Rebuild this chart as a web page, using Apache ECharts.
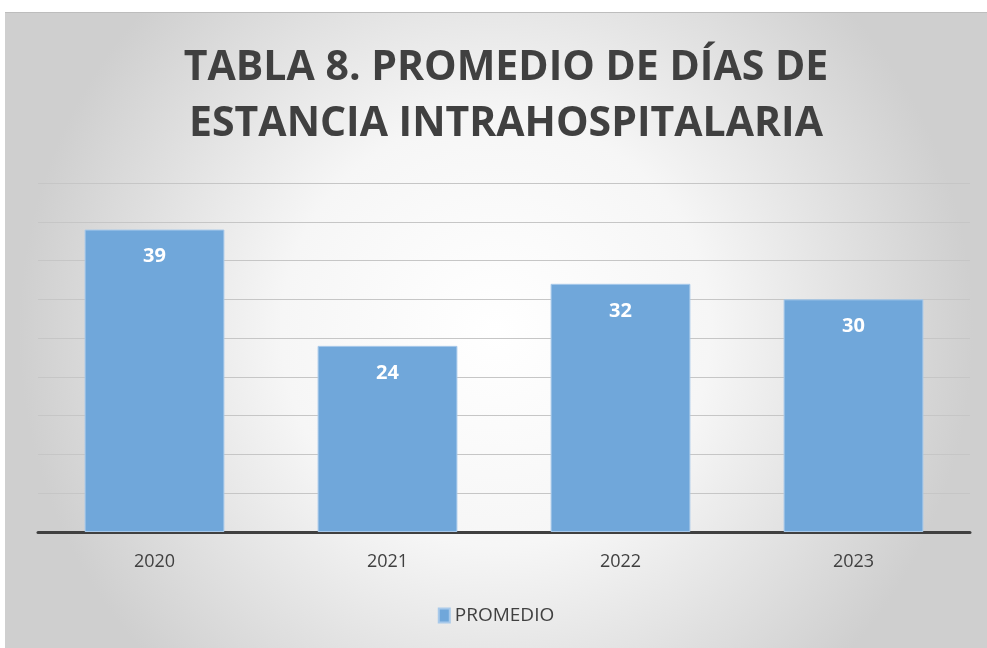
<!DOCTYPE html>
<html>
<head>
<meta charset="utf-8">
<script src="https://cdn.jsdelivr.net/npm/echarts@6/dist/echarts.min.js"></script>
<style>
  html, body { margin: 0; padding: 0; background: #fff; }
  #chart { position: absolute; left: 5px; top: 12px; width: 982px; height: 636px; border-top: 1px solid #bdbdbd; }
</style>
</head>
<body>
<div id="chart"></div>
<script>
// datos
const years = ['2020', '2021', '2022', '2023'];
const promedio = [39, 24, 32, 30];

const myChart = echarts.init(document.getElementById('chart'));
const option = {
  backgroundColor: {
    type: 'radial', x: 0.5, y: 0.5, r: 0.75,
    colorStops: [
      { offset: 0, color: '#ffffff' },
      { offset: 0.45, color: '#f6f6f6' },
      { offset: 1, color: '#cfcfcf' },
    ],
  },
  title: {
    text: 'TABLA 8. PROMEDIO DE DÍAS DE\nESTANCIA INTRAHOSPITALARIA',
    left: 496,
    textAlign: 'center',
    top: 22,
    textStyle: {
      fontFamily: 'Open Sans',
      fontWeight: 'bold',
      fontSize: 41,
      lineHeight: 56,
      color: '#404040',
    },
  },
  legend: {
    bottom: 19,
    left: 'center',
    icon: 'rect',
    itemWidth: 11,
    itemHeight: 14,
    itemGap: 4,
    textStyle: { fontFamily: 'Open Sans', fontSize: 19, color: '#404040' },
  },
  grid: { left: 33, right: 17, top: 170, bottom: 117 },
  xAxis: {
    type: 'category',
    data: years,
    axisTick: { show: false },
    axisLine: { lineStyle: { color: '#404040', width: 3 } },
    axisLabel: { fontFamily: 'Open Sans', fontSize: 18, color: '#404040', margin: 21 },
  },
  yAxis: {
    type: 'value',
    min: 0,
    max: 45,
    interval: 5,
    axisLabel: { show: false },
    axisLine: { show: false },
    axisTick: { show: false },
    splitLine: { lineStyle: { color: '#c6c6c6', width: 1 } },
  },
  series: [
    {
      name: 'PROMEDIO',
      type: 'bar',
      data: promedio,
      barWidth: '60%',
      itemStyle: { color: '#70a7da', borderColor: '#a8c9ea', borderWidth: 1 },
      label: {
        show: true,
        position: 'insideTop',
        distance: 17,
        color: '#ffffff',
        fontFamily: 'Open Sans',
        fontWeight: 'bold',
        fontSize: 20,
      },
    },
  ],
};

if (option && typeof option === 'object') {
  myChart.setOption(option, true);
}
</script>
</body>
</html>
